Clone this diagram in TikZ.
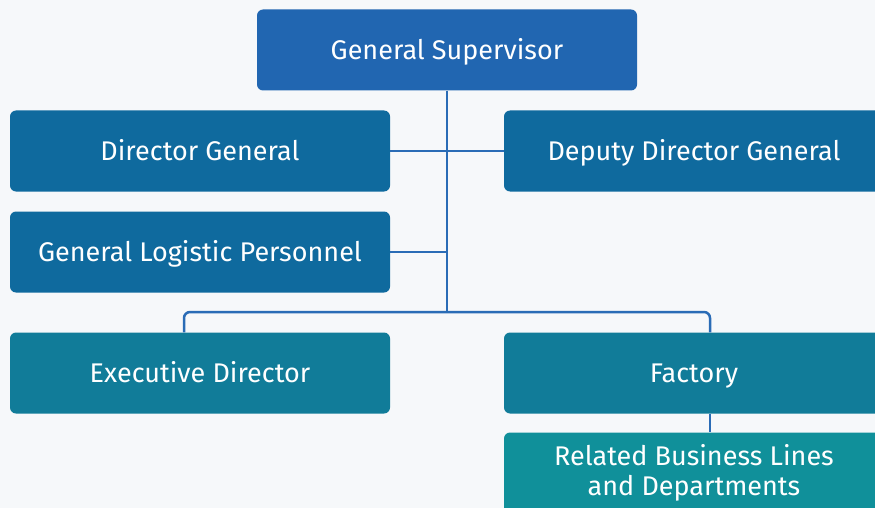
\documentclass[tikz,border=0pt]{standalone}
\usepackage{fontspec}
\setmainfont{Fira Sans}
\usetikzlibrary{calc}
\definecolor{pagebg}{HTML}{F6F8FA}
\definecolor{topblue}{HTML}{2166B1}
\definecolor{deepblue}{HTML}{0F6A9E}
\definecolor{tealblue}{HTML}{117C99}
\definecolor{teal}{HTML}{10909A}
\definecolor{wire}{HTML}{2A6CB6}
\tikzset{
  box/.style={rounded corners=6pt, text=white, align=center,
    minimum width=380pt, minimum height=81pt, inner sep=0pt,
    font=\fontsize{27}{30}\selectfont},
  unit/.style={box, fill=deepblue, text height=18.6pt, text depth=0pt},
  head/.style={unit, fill=topblue},
  branch/.style={unit, fill=tealblue},
  dept/.style={box, fill=teal},
  link/.style={draw=wire, line width=2.5pt}
}
\begin{document}
\begin{tikzpicture}[x=1pt, y=-1pt]
  \fill[pagebg] (0,0) rectangle (875,508);
  \useasboundingbox (0,0) rectangle (875,508);
  \clip (0,0) rectangle (875,508);

  \coordinate (bus) at (447,312);

  \node[head] (sup) at (447,50) {General Supervisor};
  \node[unit] (dg) at (200,151) {Director General};
  \node[unit] (ddg) at (694,151) {Deputy Director General};
  \node[unit] (glp) at (200,252) {General Logistic Personnel};
  \node[branch] (exec) at (200,373) {Executive Director};
  \node[branch] (fac) at (694,373) {Factory};
  \node[dept] (rel) at (694,473) {Related Business Lines\\and Departments};

  \draw[link] (sup.south) -- (bus);
  \draw[link] (dg.east) -- (ddg.west);
  \draw[link] (glp.east) -- (glp.east -| sup.south);
  \draw[link, rounded corners=6pt] ([xshift=-16pt]exec.north) |- (bus)
    -| ([xshift=16pt]fac.north);
  \draw[link] ([xshift=16pt]fac.south) -- ([xshift=16pt]rel.north);
\end{tikzpicture}
\end{document}
